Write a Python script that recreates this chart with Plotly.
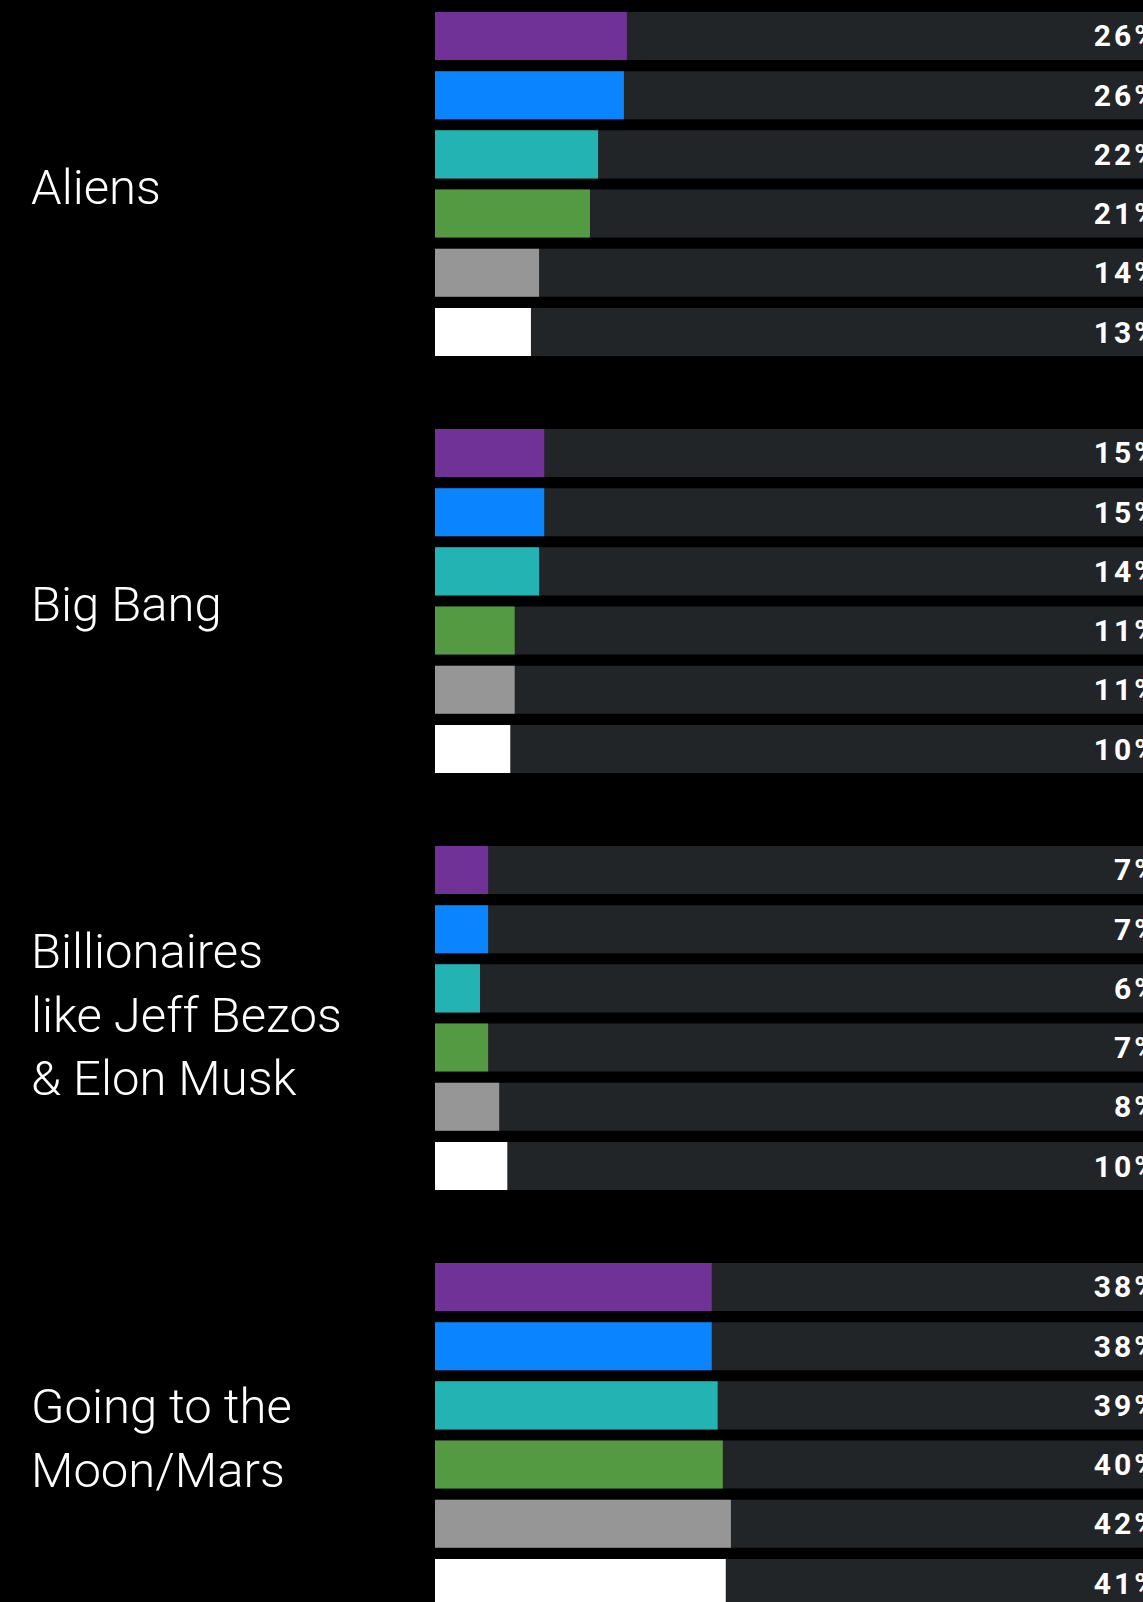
"""Horizontal grouped bar chart: share of people by topic, six groups each."""

import plotly.graph_objects as go

# --- data -----------------------------------------------------------------
topics = [
    "Aliens",
    "Big Bang",
    "Billionaires<br>like Jeff Bezos<br>& Elon Musk",
    "Going to the<br>Moon/Mars",
]

series_names = ["Series 1", "Series 2", "Series 3", "Series 4", "Series 5", "Series 6"]
series_colors = ["#703296", "#0b84ff", "#24b3b3", "#539a43", "#969696", "#ffffff"]

# bar lengths as drawn (percent)
purple_vals = [26.0, 14.8, 7.2, 37.5]
blue_vals = [25.6, 14.8, 7.2, 37.5]
teal_vals = [22.1, 14.1, 6.1, 38.3]
green_vals = [21.0, 10.8, 7.2, 39.0]
gray_vals = [14.1, 10.8, 8.7, 40.1]
white_vals = [13.0, 10.2, 9.8, 39.4]

# printed labels (percent)
purple_labels = [26, 15, 7, 38]
blue_labels = [26, 15, 7, 38]
teal_labels = [22, 14, 6, 39]
green_labels = [21, 11, 7, 40]
gray_labels = [14, 11, 8, 42]
white_labels = [13, 10, 10, 41]

track_max = [100, 100, 100, 100]

series_vals = [purple_vals, blue_vals, teal_vals, green_vals, gray_vals, white_vals]
series_labels = [purple_labels, blue_labels, teal_labels, green_labels, gray_labels, white_labels]

# --- layout constants -----------------------------------------------------
WIDTH, HEIGHT = 1143, 1602
MARGIN_L = 435
PLOT_W = WIDTH - MARGIN_L
PX_PER_PCT = 7.38
TRACK_COLOR = "#212528"
LABEL_X = 29
LABEL_YSHIFT = [-4, -4, 3, -4]


def spaced(n):
    # fake letter spacing with hair spaces, pad the end a little
    return "\u200a".join(f"{n}%") + "\u00a0\u2009"


fig = go.Figure()

# dark background tracks (carry the labels)
for i, labels in enumerate(series_labels):
    fig.add_trace(
        go.Bar(
            x=track_max,
            y=topics,
            orientation="h",
            offsetgroup=str(i),
            marker=dict(color=TRACK_COLOR, line=dict(width=0)),
            text=[spaced(v) for v in labels],
            textposition="inside",
            insidetextanchor="end",
            constraintext="none",
            textfont=dict(family="Roboto", size=30, color="#ffffff", weight=700),
            hoverinfo="skip",
            showlegend=False,
        )
    )

# coloured bars on top
for i, vals in enumerate(series_vals):
    fig.add_trace(
        go.Bar(
            x=vals,
            y=topics,
            orientation="h",
            offsetgroup=str(i),
            name=series_names[i],
            marker=dict(color=series_colors[i], line=dict(width=0)),
            hovertemplate="%{x:.0f}%<extra></extra>",
            showlegend=False,
        )
    )

# topic labels on the left
for t, dy in zip(topics, LABEL_YSHIFT):
    fig.add_annotation(
        x=(LABEL_X - MARGIN_L) / PLOT_W,
        xref="paper",
        y=t,
        yref="y",
        text=t,
        showarrow=False,
        xanchor="left",
        yanchor="middle",
        align="left",
        yshift=dy,
        font=dict(family="Roboto", size=49, color="#ffffff", weight=300),
    )

fig.update_layout(
    width=WIDTH,
    height=HEIGHT,
    margin=dict(l=MARGIN_L, r=0, t=0, b=0),
    paper_bgcolor="#000000",
    plot_bgcolor="#000000",
    barmode="group",
    bargap=0.148,
    bargroupgap=0.189,
    showlegend=False,
    xaxis=dict(range=[0, PLOT_W / PX_PER_PCT], visible=False, fixedrange=True),
    yaxis=dict(
        type="category",
        categoryorder="array",
        categoryarray=topics,
        range=[3.4005, -0.4412],
        visible=False,
        fixedrange=True,
    ),
)

fig.write_html(
    "out.html",
    config={"displayModeBar": False},
    post_script=(
        "document.body.style.margin='0';"
        "document.body.style.background='#000';"
        "document.documentElement.style.overflow='hidden';"
    ),
)
